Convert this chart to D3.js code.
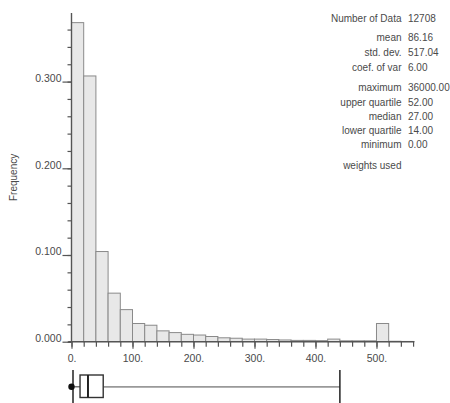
<!DOCTYPE html>
<html>
<head>
<meta charset="utf-8">
<script src="https://cdn.jsdelivr.net/npm/d3@7"></script>
<style>
  html, body { margin: 0; padding: 0; background: #fff; }
  svg { display: block; font-family: "Liberation Sans", Arial, sans-serif; }
</style>
</head>
<body>
<svg id="chart" width="450" height="403"></svg>
<script>
// Histogram bins (lower edge, width 20) and relative frequencies
const binStarts = [0, 20, 40, 60, 80, 100, 120, 140, 160, 180, 200, 220, 240, 260,
                   280, 300, 320, 340, 360, 380, 400, 420, 440, 460, 480, 500, 520, 540];
const frequencies = [0.368, 0.3065, 0.104, 0.056, 0.037, 0.021, 0.019, 0.0125, 0.0105, 0.0085,
                     0.0077, 0.006, 0.0045, 0.004, 0.003, 0.003, 0.0025, 0.002, 0.0015, 0.0015,
                     0.0012, 0.003, 0.001, 0.001, 0.001, 0.021, 0.0005, 0.0003];
const binWidth = 20;

// Axis ticks and labels
const xMajorTicks = [0, 100, 200, 300, 400, 500];
const xTickLabels = ["0.", "100.", "200.", "300.", "400.", "500."];
const yMajorTicks = [0, 0.1, 0.2, 0.3];
const yTickLabels = ["0.000", "0.100", "0.200", "0.300"];

// Summary statistics panel
const statNames = ["Number of Data", "mean", "std. dev.", "coef. of var",
                   "maximum", "upper quartile", "median", "lower quartile", "minimum",
                   "weights used"];
const statValues = ["12708", "86.16", "517.04", "6.00",
                    "36000.00", "52.00", "27.00", "14.00", "0.00", ""];

// Box plot values (whisker end)
const boxMin = 0, boxQ1 = 14, boxMedian = 27, boxQ3 = 52, boxWhiskerHigh = 440;

const svg = d3.select("#chart");
const textColor = "#4a4a4a";
const axisColor = "#555";

const x = d3.scaleLinear().domain([0, 562]).range([71.5, 414.3]);
const y = d3.scaleLinear().domain([0, 0.379]).range([341.7, 13.1]);

// Bars
svg.append("g").selectAll("rect")
  .data(binStarts.map((s, i) => ({ s, f: frequencies[i] })))
  .join("rect")
  .attr("x", d => x(d.s))
  .attr("width", d => x(d.s + binWidth) - x(d.s))
  .attr("y", d => y(d.f))
  .attr("height", d => y(0) - y(d.f))
  .attr("fill", "#e8e8e8")
  .attr("stroke", "#8a8a8a")
  .attr("stroke-width", 1);

// Y axis: minor ticks every 0.02, major every 0.1
const yMinor = d3.range(0, 0.38, 0.02);
const yAxisMinor = d3.axisLeft(y).tickValues(yMinor).tickSize(4).tickFormat("");
const gyMinor = svg.append("g").attr("transform", `translate(${x(0)},0)`).call(yAxisMinor);
const yAxisMajor = d3.axisLeft(y).tickValues(yMajorTicks).tickSize(9)
  .tickFormat((d, i) => yTickLabels[i]).tickPadding(1);
const gyMajor = svg.append("g").attr("transform", `translate(${x(0)},0)`).call(yAxisMajor);
[gyMinor, gyMajor].forEach(g => {
  g.selectAll("path,line").attr("stroke", axisColor).attr("stroke-width", 1.2);
  g.select(".domain").attr("d", `M0,${y(0)}V${y.range()[1]}`);
});
gyMajor.selectAll("text")
  .attr("fill", textColor).attr("font-size", 10.5)
  .attr("dy", "0em");

// X axis: minor ticks every 20, major every 100
const xMinor = d3.range(0, 561, 20);
const xAxisMinor = d3.axisBottom(x).tickValues(xMinor).tickSize(5).tickFormat("");
const gxMinor = svg.append("g").attr("transform", `translate(0,${y(0)})`).call(xAxisMinor);
const xAxisMajor = d3.axisBottom(x).tickValues(xMajorTicks).tickSize(7)
  .tickFormat((d, i) => xTickLabels[i]).tickPadding(6);
const gxMajor = svg.append("g").attr("transform", `translate(0,${y(0)})`).call(xAxisMajor);
[gxMinor, gxMajor].forEach(g => {
  g.selectAll("path,line").attr("stroke", axisColor).attr("stroke-width", 1.2);
  g.select(".domain").attr("d", `M${x(0) - 3},0H${x.range()[1]}`);
});
gxMajor.selectAll("text").attr("fill", textColor).attr("font-size", 10.5);

// Y axis title
svg.append("text")
  .attr("transform", `translate(17,${(y(0) + y.range()[1]) / 2}) rotate(-90)`)
  .attr("text-anchor", "middle")
  .attr("fill", textColor)
  .attr("font-size", 10)
  .text("Frequency");

// Statistics panel
const statBaselines = [22, 40.5, 55.5, 70.5, 91, 106, 119.5, 133.5, 148, 168.5];
const stats = svg.append("g");
statNames.forEach((name, i) => {
  stats.append("text")
    .attr("x", 401.5).attr("y", statBaselines[i])
    .attr("text-anchor", "end")
    .attr("fill", textColor).attr("font-size", 10)
    .text(name);
  stats.append("text")
    .attr("x", 408).attr("y", statBaselines[i])
    .attr("fill", textColor).attr("font-size", 10)
    .text(statValues[i]);
});

// Box plot below the axis
const bp = svg.append("g");
const boxTop = 375, boxBottom = 397.5, boxMid = 386.8;
bp.append("line")
  .attr("x1", x(boxQ3)).attr("x2", x(boxWhiskerHigh))
  .attr("y1", boxMid).attr("y2", boxMid)
  .attr("stroke", "#999").attr("stroke-width", 1.8);
bp.append("line")
  .attr("x1", x(boxWhiskerHigh)).attr("x2", x(boxWhiskerHigh))
  .attr("y1", 370).attr("y2", 403)
  .attr("stroke", "#222").attr("stroke-width", 1.5);
bp.append("line")
  .attr("x1", x(boxMin) + 1.5).attr("x2", x(boxMin) + 1.5)
  .attr("y1", 370).attr("y2", 403)
  .attr("stroke", "#222").attr("stroke-width", 1.5);
bp.append("line")
  .attr("x1", x(boxMin)).attr("x2", x(boxQ1))
  .attr("y1", boxMid).attr("y2", boxMid)
  .attr("stroke", "#555").attr("stroke-width", 1.2);
bp.append("rect")
  .attr("x", x(boxQ1)).attr("y", boxTop)
  .attr("width", x(boxQ3) - x(boxQ1)).attr("height", boxBottom - boxTop)
  .attr("fill", "#fff").attr("stroke", "#333").attr("stroke-width", 1.4);
bp.append("line")
  .attr("x1", x(boxMedian)).attr("x2", x(boxMedian))
  .attr("y1", boxTop).attr("y2", boxBottom)
  .attr("stroke", "#222").attr("stroke-width", 2);
bp.append("circle")
  .attr("cx", x(boxMin)).attr("cy", boxMid).attr("r", 3.2)
  .attr("fill", "#111");
</script>
</body>
</html>
